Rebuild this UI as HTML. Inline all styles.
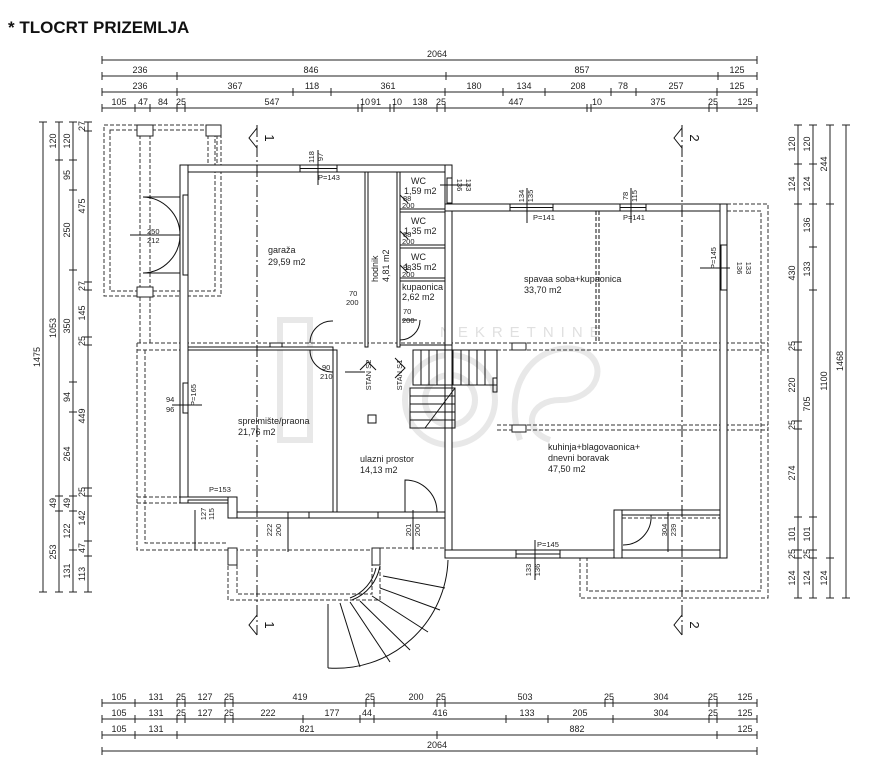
<!DOCTYPE html>
<html><head><meta charset="utf-8"><style>
html,body{margin:0;padding:0;background:#fff;}
svg{display:block;font-family:"Liberation Sans",sans-serif;}
.t{font-size:9px;fill:#222;}
.r{font-size:9px;fill:#222;}
.d line{stroke:#222;stroke-width:1;}
</style></head><body>
<svg width="888" height="768" viewBox="0 0 888 768" xmlns="http://www.w3.org/2000/svg">
<text x="8" y="33" font-size="17" font-weight="bold" fill="#111">* TLOCRT PRIZEMLJA</text>

<!-- watermark -->
<g fill="none" stroke="#e6e6e6" stroke-width="6" opacity="0.9">
<rect x="280" y="320" width="30" height="120"/>
<circle cx="450" cy="400" r="45"/><circle cx="450" cy="400" r="25"/>
<path d="M520 440 C500 380 540 340 580 350 C610 360 600 400 560 400 C530 400 520 430 550 440"/>
</g>
<text x="440" y="337" font-size="15" fill="#e0e0e0" letter-spacing="7">NEKRETNINE</text>

<!-- top dimension lines -->
<g stroke="#222" stroke-width="1">
<line x1="102" y1="60" x2="757" y2="60"/>
<line x1="102" y1="76" x2="757" y2="76"/>
<line x1="102" y1="92" x2="757" y2="92"/>
<line x1="102" y1="108" x2="757" y2="108"/>
<line x1="102" y1="703" x2="757" y2="703"/>
<line x1="102" y1="719" x2="757" y2="719"/>
<line x1="102" y1="735" x2="757" y2="735"/>
<line x1="102" y1="751" x2="757" y2="751"/>
<line x1="43" y1="122" x2="43" y2="592"/>
<line x1="59" y1="122" x2="59" y2="592"/>
<line x1="73" y1="122" x2="73" y2="592"/>
<line x1="88" y1="122" x2="88" y2="592"/>
<line x1="798" y1="125" x2="798" y2="598"/>
<line x1="813" y1="125" x2="813" y2="598"/>
<line x1="830" y1="125" x2="830" y2="598"/>
<line x1="846" y1="125" x2="846" y2="598"/>
</g>
<!-- ticks -->
<g stroke="#222" stroke-width="1">
<path d="M102 56v8M757 56v8
M102 72v8M177 72v8M446 72v8M718 72v8M757 72v8
M102 88v8M177 88v8M293 88v8M331 88v8M445 88v8M503 88v8M545 88v8M611 88v8M636 88v8M717 88v8M757 88v8
M102 104v8M135 104v8M150 104v8M177 104v8M185 104v8M358 104v8M362 104v8M390 104v8M394 104v8M437 104v8M445 104v8M587 104v8M591 104v8M709 104v8M717 104v8M757 104v8
M102 699v8M135 699v8M177 699v8M185 699v8M225 699v8M233 699v8M366 699v8M374 699v8M437 699v8M445 699v8M605 699v8M613 699v8M709 699v8M717 699v8M757 699v8
M102 715v8M135 715v8M177 715v8M185 715v8M225 715v8M233 715v8M303 715v8M360 715v8M374 715v8M506 715v8M548 715v8M613 715v8M709 715v8M717 715v8M757 715v8
M102 731v8M135 731v8M177 731v8M437 731v8M717 731v8M757 731v8
M102 747v8M757 747v8
M39 122h8M39 592h8
M55 122h8M55 160h8M55 496h8M55 511h8M55 592h8
M69 122h8M69 160h8M69 190h8M69 270h8M69 382h8M69 412h8M69 496h8M69 511h8M69 550h8M69 592h8
M84 122h8M84 131h8M84 282h8M84 290h8M84 337h8M84 345h8M84 488h8M84 496h8M84 541h8M84 556h8M84 592h8
M794 125h8M794 164h8M794 204h8M794 342h8M794 350h8M794 421h8M794 429h8M794 517h8M794 550h8M794 558h8M794 598h8
M809 125h8M809 164h8M809 204h8M809 247h8M809 290h8M809 517h8M809 550h8M809 558h8M809 598h8
M826 125h8M826 204h8M826 558h8M826 598h8
M842 125h8M842 598h8"/>
</g>
<!-- top labels -->
<g class="t" text-anchor="middle">
<text x="437" y="57">2064</text>
<text x="140" y="73">236</text><text x="311" y="73">846</text><text x="582" y="73">857</text><text x="737" y="73">125</text>
<text x="140" y="89">236</text><text x="235" y="89">367</text><text x="312" y="89">118</text><text x="388" y="89">361</text><text x="474" y="89">180</text><text x="524" y="89">134</text><text x="578" y="89">208</text><text x="623" y="89">78</text><text x="676" y="89">257</text><text x="737" y="89">125</text>
<text x="119" y="105">105</text><text x="143" y="105">47</text><text x="163" y="105">84</text><text x="181" y="105">25</text><text x="272" y="105">547</text><text x="365" y="105">10</text><text x="376" y="105">91</text><text x="397" y="105">10</text><text x="420" y="105">138</text><text x="441" y="105">25</text><text x="516" y="105">447</text><text x="597" y="105">10</text><text x="658" y="105">375</text><text x="713" y="105">25</text><text x="745" y="105">125</text>
<text x="119" y="700">105</text><text x="156" y="700">131</text><text x="181" y="700">25</text><text x="205" y="700">127</text><text x="229" y="700">25</text><text x="300" y="700">419</text><text x="370" y="700">25</text><text x="416" y="700">200</text><text x="441" y="700">25</text><text x="525" y="700">503</text><text x="609" y="700">25</text><text x="661" y="700">304</text><text x="713" y="700">25</text><text x="745" y="700">125</text>
<text x="119" y="716">105</text><text x="156" y="716">131</text><text x="181" y="716">25</text><text x="205" y="716">127</text><text x="229" y="716">25</text><text x="268" y="716">222</text><text x="332" y="716">177</text><text x="367" y="716">44</text><text x="440" y="716">416</text><text x="527" y="716">133</text><text x="580" y="716">205</text><text x="661" y="716">304</text><text x="713" y="716">25</text><text x="745" y="716">125</text>
<text x="119" y="732">105</text><text x="156" y="732">131</text><text x="307" y="732">821</text><text x="577" y="732">882</text><text x="745" y="732">125</text>
<text x="437" y="748">2064</text>
</g>
<!-- left labels rotated -->
<g class="t" text-anchor="middle">
<text transform="translate(40,357) rotate(-90)">1475</text>
<text transform="translate(56,141) rotate(-90)">120</text><text transform="translate(56,328) rotate(-90)">1053</text><text transform="translate(56,503) rotate(-90)">49</text><text transform="translate(56,552) rotate(-90)">253</text>
<text transform="translate(70,141) rotate(-90)">120</text><text transform="translate(70,175) rotate(-90)">95</text><text transform="translate(70,230) rotate(-90)">250</text><text transform="translate(70,326) rotate(-90)">350</text><text transform="translate(70,397) rotate(-90)">94</text><text transform="translate(70,454) rotate(-90)">264</text><text transform="translate(70,503) rotate(-90)">49</text><text transform="translate(70,531) rotate(-90)">122</text><text transform="translate(70,571) rotate(-90)">131</text>
<text transform="translate(85,126) rotate(-90)">27</text><text transform="translate(85,206) rotate(-90)">475</text><text transform="translate(85,286) rotate(-90)">27</text><text transform="translate(85,313) rotate(-90)">145</text><text transform="translate(85,341) rotate(-90)">25</text><text transform="translate(85,416) rotate(-90)">449</text><text transform="translate(85,492) rotate(-90)">25</text><text transform="translate(85,518) rotate(-90)">142</text><text transform="translate(85,548) rotate(-90)">47</text><text transform="translate(85,574) rotate(-90)">113</text>
<text transform="translate(795,144) rotate(-90)">120</text><text transform="translate(795,184) rotate(-90)">124</text><text transform="translate(795,273) rotate(-90)">430</text><text transform="translate(795,346) rotate(-90)">25</text><text transform="translate(795,385) rotate(-90)">220</text><text transform="translate(795,425) rotate(-90)">25</text><text transform="translate(795,473) rotate(-90)">274</text><text transform="translate(795,534) rotate(-90)">101</text><text transform="translate(795,554) rotate(-90)">25</text><text transform="translate(795,578) rotate(-90)">124</text>
<text transform="translate(810,144) rotate(-90)">120</text><text transform="translate(810,184) rotate(-90)">124</text><text transform="translate(810,225) rotate(-90)">136</text><text transform="translate(810,269) rotate(-90)">133</text><text transform="translate(810,404) rotate(-90)">705</text><text transform="translate(810,534) rotate(-90)">101</text><text transform="translate(810,554) rotate(-90)">25</text><text transform="translate(810,578) rotate(-90)">124</text>
<text transform="translate(827,164) rotate(-90)">244</text><text transform="translate(827,381) rotate(-90)">1100</text><text transform="translate(827,578) rotate(-90)">124</text>
<text transform="translate(843,361) rotate(-90)">1468</text>
</g>

<!-- dashed exterior outlines -->
<g fill="none" stroke="#333" stroke-width="1" stroke-dasharray="4,2">
<rect x="104" y="125" width="117" height="171"/>
<rect x="110" y="130" width="105" height="161"/>
<line x1="140" y1="135" x2="140" y2="288"/><line x1="150" y1="135" x2="150" y2="288"/>
<line x1="208" y1="135" x2="208" y2="165"/><line x1="217" y1="135" x2="217" y2="165"/>
<line x1="140" y1="297" x2="140" y2="345"/><line x1="150" y1="297" x2="150" y2="345"/>
<!-- middle bands -->
<polyline points="137,343 768,343"/>
<polyline points="137,350 333,350"/>
<polyline points="497,350 768,350"/>
<polyline points="497,425 768,425"/>
<polyline points="497,430 768,430"/>
<polyline points="137,343 137,550 228,550"/>
<polyline points="145,350 145,543 228,543"/>
<line x1="137" y1="497" x2="180" y2="497"/><line x1="137" y1="503" x2="180" y2="503"/>
<rect x="228" y="550" width="152" height="50"/>
<polyline points="237,565 237,594 372,594 372,565"/>
<line x1="380" y1="548" x2="445" y2="548"/>
<!-- right -->
<polyline points="727,204 768,204 768,598 580,598 580,558"/>
<polyline points="727,211 761,211 761,591 587,591 587,558"/>
<line x1="622" y1="518" x2="727" y2="518"/>
</g>
<!-- pillars -->
<g fill="#fff" stroke="#222" stroke-width="1">
<rect x="137" y="125" width="16" height="11"/><rect x="206" y="125" width="15" height="11"/>
<rect x="137" y="287" width="16" height="10"/>
<rect x="228" y="548" width="9" height="17"/><rect x="372" y="548" width="8" height="17"/>
<rect x="512" y="343" width="14" height="7"/><rect x="512" y="425" width="14" height="7"/>
<rect x="270" y="343" width="12" height="7"/>
</g>

<!-- walls -->
<g fill="#fff" stroke="#111" stroke-width="1">
<rect x="180" y="165" width="272" height="7"/>
<rect x="180" y="165" width="8" height="338"/>
<rect x="445" y="165" width="7" height="180"/>
<rect x="445" y="204" width="282" height="7"/>
<rect x="720" y="204" width="7" height="354"/>
<rect x="445" y="345" width="7" height="213"/>
<rect x="445" y="550" width="177" height="8"/>
<rect x="614" y="510" width="8" height="48"/>
<rect x="622" y="510" width="98" height="5"/>
<rect x="180" y="497" width="57" height="6"/>
<rect x="228" y="497" width="9" height="21"/>
<rect x="237" y="512" width="141" height="6"/>
<rect x="333" y="350" width="4" height="162"/>
<rect x="188" y="347" width="145" height="3"/>
<rect x="365" y="172" width="3" height="175"/>
<rect x="397" y="172" width="3" height="175"/>
<rect x="400" y="209" width="45" height="3"/>
<rect x="400" y="245" width="45" height="3"/>
<rect x="400" y="278" width="45" height="3"/>
</g>
<g stroke="#111" stroke-width="1" fill="none">
<line x1="622" y1="558" x2="727" y2="558"/>
<line x1="622" y1="550" x2="720" y2="550"/>
<rect x="378" y="512" width="67" height="6"/>
<rect x="237" y="512" width="72" height="6"/>
<line x1="400" y1="345" x2="445" y2="345"/>
<!-- windows -->
<rect x="300" y="165" width="37" height="7"/><line x1="300" y1="168.5" x2="337" y2="168.5"/>
<rect x="510" y="204" width="43" height="7"/><line x1="510" y1="207.5" x2="553" y2="207.5"/>
<rect x="620" y="204" width="26" height="7"/><line x1="620" y1="207.5" x2="646" y2="207.5"/>
<rect x="721" y="245" width="6" height="45"/>
<rect x="447" y="178" width="5" height="25"/>
<rect x="183" y="195" width="5" height="80"/>
<rect x="183" y="383" width="5" height="30"/>
<rect x="188" y="500" width="40" height="3"/>
<rect x="516" y="550" width="44" height="8"/><line x1="516" y1="554" x2="560" y2="554"/>
<!-- inner dashed partition -->
<line x1="596" y1="211" x2="596" y2="343" stroke-dasharray="4,2"/>
<line x1="599" y1="211" x2="599" y2="343" stroke-dasharray="4,2"/>
<!-- doors -->
<path d="M143 197 A38 38 0 0 1 180 235"/><path d="M143 273 A38 38 0 0 0 180 235"/>
<line x1="143" y1="197" x2="180" y2="197"/><line x1="143" y1="273" x2="180" y2="273"/>
<path d="M310 343 A22 22 0 0 1 333 321"/>
<path d="M310 350 A22 22 0 0 0 333 372"/>
<path d="M400 340 A20 20 0 0 0 420 320"/>
<path d="M437 512 A32 32 0 0 0 405 480 L405 512"/>
<path d="M623 545 A28 28 0 0 0 651 515"/>
<path d="M400 195 l8 8 M400 231 l8 8 M400 265 l8 8"/>
<!-- dim crosses -->
<path d="M318 150v35M527 188v35M631 188v35M700 268h30M440 185h30M288 512v40M172 405h30M195 510v40M413 510v40M535 540v40M668 512v40M130 235h50M402 320h15M345 372h20"/>
<!-- stairs -->
<rect x="413" y="350" width="84" height="35"/>
<path d="M421 350v35M429 350v35M437 350v35M445 350v35M453 350v35M461 350v35M469 350v35M477 350v35M485 350v35"/>
<rect x="410" y="388" width="45" height="40"/>
<path d="M410 396h45M410 404h45M410 412h45M410 420h45M455 388l-30 40"/>
<rect x="493" y="378" width="4" height="14"/>
<rect x="368" y="415" width="8" height="8"/>
<path d="M360 370 l8 -8 l8 8 M395 358 l10 10 l-10 10"/>
<!-- spiral stair -->
<path d="M448 560 A112 112 0 0 1 328 668"/>
<path d="M376 568 A42 42 0 0 1 350 598"/>
<path d="M380 566 A45 45 0 0 1 352 600"/>
<line x1="328" y1="668" x2="328" y2="604"/>
<path d="M383 576 L445 588 M380 588 L440 610 M372 596 L428 632 M360 601 L410 650 M350 602 L390 662 M340 603 L360 667"/>
<!-- section lines -->
<line x1="257" y1="125" x2="257" y2="635" stroke-dasharray="12,3,2,3"/>
<line x1="682" y1="125" x2="682" y2="635" stroke-dasharray="12,3,2,3"/>
<path d="M257 128 l-8 10 l8 10 M682 128 l-8 10 l8 10 M257 615 l-8 10 l8 10 M682 615 l-8 10 l8 10"/>
</g>
<g font-size="13" fill="#111" text-anchor="middle">
<text transform="translate(265,138) rotate(90)">1</text>
<text transform="translate(265,625) rotate(90)">1</text>
<text transform="translate(690,138) rotate(90)">2</text>
<text transform="translate(690,625) rotate(90)">2</text>
</g>

<!-- room labels -->
<g class="r">
<text x="268" y="253">garaža</text><text x="268" y="265">29,59 m2</text>
<text x="411" y="184">WC</text><text x="404" y="194">1,59 m2</text>
<text x="411" y="224">WC</text><text x="404" y="234">1,35 m2</text>
<text x="411" y="260">WC</text><text x="404" y="270">1,35 m2</text>
<text x="402" y="290">kupaonica</text><text x="402" y="300">2,62 m2</text>
<text transform="translate(378,282) rotate(-90)">hodnik</text>
<text transform="translate(389,282) rotate(-90)">4,81 m2</text>
<text x="524" y="282">spavaa soba+kupaonica</text><text x="524" y="293">33,70 m2</text>
<text x="238" y="424">sprelmište/praona</text><text x="238" y="435">21,76 m2</text>
<text x="360" y="462">ulazni prostor</text><text x="360" y="473">14,13 m2</text>
<text x="548" y="450">kuhinja+blagovaonica+</text><text x="548" y="461">dnevni boravak</text><text x="548" y="472">47,50 m2</text>
</g>
<g font-size="7.5" fill="#222">
<text x="318" y="180">P=143</text>
<text x="533" y="220">P=141</text><text x="623" y="220">P=141</text>
<text x="209" y="492">P=153</text><text x="537" y="547">P=145</text>
<text x="147" y="234">250</text><text x="147" y="243">212</text>
<text x="349" y="296">70</text><text x="346" y="305">200</text>
<text x="403" y="314">70</text><text x="402" y="323">200</text>
<text x="403" y="201">88</text><text x="402" y="208">200</text>
<text x="403" y="237">88</text><text x="402" y="244">200</text>
<text x="403" y="270">88</text><text x="402" y="277">200</text>
<text x="322" y="370">90</text><text x="320" y="379">210</text>
<text x="166" y="402">94</text><text x="166" y="412">96</text>
<g text-anchor="middle">
<text transform="translate(314,157) rotate(-90)">118</text><text transform="translate(323,157) rotate(-90)">97</text>
<text transform="translate(524,196) rotate(-90)">134</text><text transform="translate(533,196) rotate(-90)">135</text>
<text transform="translate(628,196) rotate(-90)">78</text><text transform="translate(637,196) rotate(-90)">115</text>
<text transform="translate(716,258) rotate(-90)">P=145</text>
<text transform="translate(737,268) rotate(90)">136</text><text transform="translate(746,268) rotate(90)">133</text>
<text transform="translate(457,185) rotate(90)">136</text><text transform="translate(466,185) rotate(90)">133</text>
<text transform="translate(196,395) rotate(-90)">P=165</text>
<text transform="translate(206,514) rotate(-90)">127</text><text transform="translate(214,514) rotate(-90)">115</text>
<text transform="translate(272,530) rotate(-90)">222</text><text transform="translate(281,530) rotate(-90)">200</text>
<text transform="translate(411,530) rotate(-90)">201</text><text transform="translate(420,530) rotate(-90)">200</text>
<text transform="translate(531,570) rotate(-90)">133</text><text transform="translate(540,570) rotate(-90)">136</text>
<text transform="translate(667,530) rotate(-90)">304</text><text transform="translate(676,530) rotate(-90)">239</text>
<text transform="translate(371,375) rotate(-90)">STAN S2</text>
<text transform="translate(402,375) rotate(-90)">STAN S1</text>
</g>
</g>
</svg>
</body></html>
